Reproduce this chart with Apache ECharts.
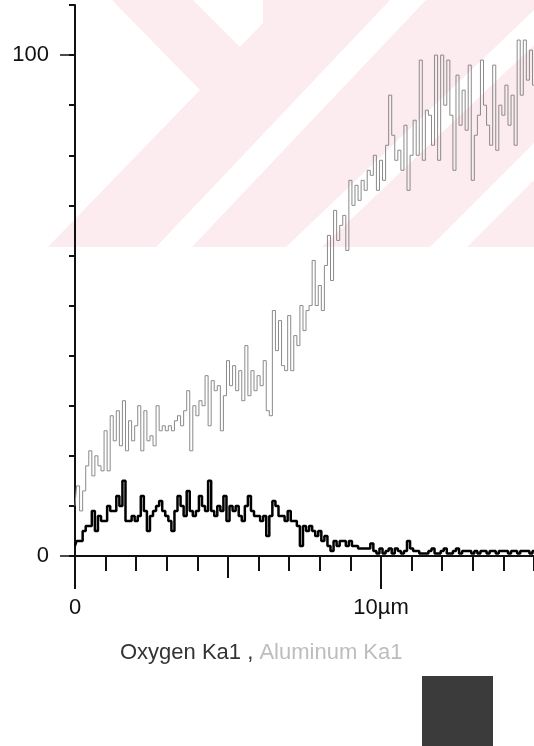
<!DOCTYPE html>
<html><head><meta charset="utf-8">
<script src="https://cdn.jsdelivr.net/npm/echarts@6/dist/echarts.min.js"></script>
<style>html,body{margin:0;padding:0;background:#fff}#c{width:534px;height:746px}</style>
</head><body><div id="c"></div>
<script>
// distance along the line scan (µm)
const distanceUm = [
0.0,0.1,0.2,0.3,0.4,0.5,0.6,0.7,0.8,0.9,
1.0,1.1,1.2,1.3,1.4,1.5,1.6,1.7,1.8,1.9,
2.0,2.1,2.2,2.3,2.4,2.5,2.6,2.7,2.8,2.9,
3.0,3.1,3.2,3.3,3.4,3.5,3.6,3.7,3.8,3.9,
4.0,4.1,4.2,4.3,4.4,4.5,4.6,4.7,4.8,4.9,
5.0,5.1,5.2,5.3,5.4,5.5,5.6,5.7,5.8,5.9,
6.0,6.1,6.2,6.3,6.4,6.5,6.6,6.7,6.8,6.9,
7.0,7.1,7.2,7.3,7.4,7.5,7.6,7.7,7.8,7.9,
8.0,8.1,8.2,8.3,8.4,8.5,8.6,8.7,8.8,8.9,
9.0,9.1,9.2,9.3,9.4,9.5,9.6,9.7,9.8,9.9,
10.0,10.1,10.2,10.3,10.4,10.5,10.6,10.7,10.8,10.9,
11.0,11.1,11.2,11.3,11.4,11.5,11.6,11.7,11.8,11.9,
12.0,12.1,12.2,12.3,12.4,12.5,12.6,12.7,12.8,12.9,
13.0,13.1,13.2,13.3,13.4,13.5,13.6,13.7,13.8,13.9,
14.0,14.1,14.2,14.3,14.4,14.5,14.6,14.7,14.8,14.9,
15.0];

// Aluminum Ka1 counts (gray trace)
const aluminumKa1 = [
10,14,9,13,18,21,16,20,18,17,
25,17,28,23,29,22,31,21,27,23,
26,30,21,29,23,24,22,30,25,26,
25,26,25,27,28,26,29,33,21,30,
28,31,30,36,26,35,33,34,25,32,
39,34,38,33,37,31,42,32,37,33,
36,34,39,29,28,49,41,47,38,37,
48,37,44,42,50,45,49,50,59,50,
54,49,58,64,55,69,63,66,68,61,
75,70,74,71,75,73,77,76,80,73,
79,75,82,92,84,79,81,77,86,73,
80,87,80,99,79,89,88,82,100,79,
100,90,99,88,77,96,86,93,85,98,
75,84,88,99,90,86,82,98,81,90,
88,94,86,92,82,103,92,103,95,101,
94];

// Oxygen Ka1 counts (black trace)
const oxygenKa1 = [
2,3,3,5,6,6,9,5,8,7,
7,10,9,9,12,10,15,7,7,8,
7,8,12,9,5,8,9,10,11,9,
8,7,5,9,12,10,8,13,9,8,
9,12,10,9,15,9,8,10,9,12,
7,10,9,10,8,7,10,12,9,8,
8,7,8,4,8,11,10,8,8,7,
9,7,7,6,2,6,5,6,5,4,
5,3,4,2,1,3,2,3,3,2,
3,2,2,1.5,1.5,1.5,1.5,2.5,1,0.5,
1.5,0.5,1,1.5,0.5,1.5,1,0.5,1,3,
1.5,1,1,0.5,0.5,0.5,1,1.5,0.5,0.5,
1,1.5,0.5,0.5,1,1.5,0.5,1,1,1,
0.5,1,0.5,1,1,0.5,1,1,0.5,1,
1,1,0.5,1,1,0.5,1,1,1,0.5,
1];

const yTickLabels = [0, 100];
const xTickLabels = [0, 10];
const xUnit = 'µm';
const seriesNames = ['Oxygen Ka1', 'Aluminum Ka1'];

const FONT = '"Liberation Sans", Arial, sans-serif';
const AX = '#111';
const PINK = '#fcebef';

const pair = arr => distanceUm.map((d, i) => [d, arr[i]]);

const chart = echarts.init(document.getElementById('c'), null, {renderer: 'canvas'});
const baseX = {type: 'value', min: 0, max: 15, interval: 1, position: 'bottom',
  splitLine: {show: false}, axisLabel: {show: false}};
const baseY = {type: 'value', min: 0, max: 110, interval: 10, position: 'left',
  splitLine: {show: false}, axisLabel: {show: false}};

chart.setOption({
  animation: false,
  backgroundColor: '#fff',
  grid: {left: 75, right: 0, top: 5, bottom: 190},
  xAxis: [
    Object.assign({}, baseX, {
      axisLine: {show: true, onZero: false, lineStyle: {color: AX, width: 2}},
      axisTick: {show: true, length: 15, lineStyle: {color: AX, width: 2}}
    }),
    Object.assign({}, baseX, {
      axisLine: {show: false},
      axisTick: {show: true, customValues: [5], length: 22, lineStyle: {color: AX, width: 2}}
    }),
    Object.assign({}, baseX, {
      axisLine: {show: false},
      axisTick: {show: true, customValues: xTickLabels, length: 33, lineStyle: {color: AX, width: 2}},
      axisLabel: {show: true, customValues: xTickLabels, margin: 41, fontSize: 22,
        fontFamily: FONT, color: '#111',
        formatter: v => v === 0 ? '0' : v + xUnit}
    })
  ],
  yAxis: [
    Object.assign({}, baseY, {
      axisLine: {show: true, onZero: false, lineStyle: {color: AX, width: 2}},
      axisTick: {show: true, length: 6, lineStyle: {color: AX, width: 2}}
    }),
    Object.assign({}, baseY, {
      axisLine: {show: false},
      axisTick: {show: true, customValues: yTickLabels, length: 15, lineStyle: {color: AX, width: 1.5}},
      axisLabel: {show: true, customValues: yTickLabels, margin: 26, fontSize: 22,
        fontFamily: FONT, color: '#111'}
    })
  ],
  graphic: [
    {type: 'rect', z: -10, silent: true, shape: {x: 0, y: 0, width: 534, height: 247}, style: {fill: PINK}},
    {type: 'polygon', z: -9, silent: true, shape: {points: [[0,0],[112,0],[200,90],[48,247],[0,247]]}, style: {fill: '#fff'}},
    {type: 'polygon', z: -9, silent: true, shape: {points: [[193,0],[263,0],[263,23],[240,47]]}, style: {fill: '#fff'}},
    {type: 'polygon', z: -9, silent: true, shape: {points: [[390,0],[426,0],[192,247],[156,247]]}, style: {fill: '#fff'}},
    {type: 'polygon', z: -9, silent: true, shape: {points: [[534,10],[534,45],[322,247],[286,247]]}, style: {fill: '#fff'}},
    {type: 'polygon', z: -9, silent: true, shape: {points: [[534,143],[534,180],[467,247],[430,247]]}, style: {fill: '#fff'}},
    {type: 'text', silent: true, x: 120, y: 653, style: {
      text: '{o|' + seriesNames[0] + ' ,} {a|' + seriesNames[1] + '}',
      verticalAlign: 'middle', font: '22px ' + FONT,
      rich: {o: {fill: '#333', fontSize: 22, fontFamily: FONT}, a: {fill: '#bdbdbd', fontSize: 22, fontFamily: FONT}}
    }},
    {type: 'rect', silent: true, shape: {x: 422, y: 676, width: 71, height: 70}, style: {fill: '#3b3b3b'}}
  ],
  series: [
    {name: seriesNames[1], type: 'line', xAxisIndex: 0, yAxisIndex: 0, data: pair(aluminumKa1),
      step: 'middle', symbol: 'none', lineStyle: {color: '#8a8a8a', width: 1}, z: 2},
    {name: seriesNames[0], type: 'line', xAxisIndex: 0, yAxisIndex: 0, data: pair(oxygenKa1),
      step: 'middle', symbol: 'none', lineStyle: {color: '#000', width: 2.5}, z: 3}
  ]
});
</script>
</body></html>
